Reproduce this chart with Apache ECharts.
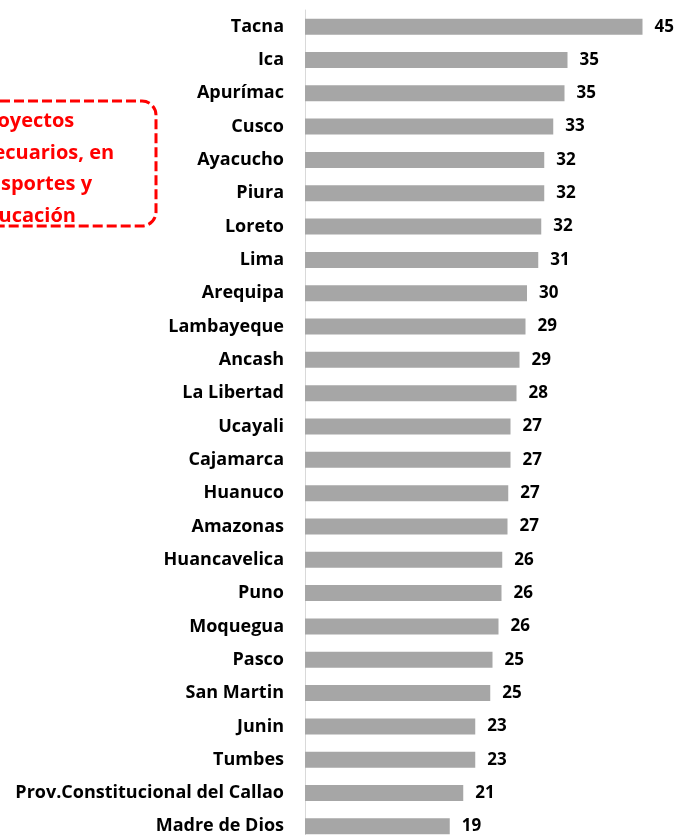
<!DOCTYPE html>
<html>
  <head>
    <meta http-equiv="Content-Type" content="text/html; charset=utf-8" />
    <title>index.html</title>
    <style type="text/css">
    	html,body{margin:0;padding:0;background:#fff;}
    	#chart1{width:680px;height:835px;}
    </style>
    <script type="text/javascript" src="https://cdn.jsdelivr.net/npm/echarts@6.0.0/dist/echarts.min.js"></script>
  </head>
  <body>
    <div id="chart1"></div>
  </body>
  <script type="text/javascript">
  	// regiones, de arriba hacia abajo
  	var regiones = ['Tacna','Ica','Apurímac','Cusco','Ayacucho','Piura','Loreto','Lima',
  		'Arequipa','Lambayeque','Ancash','La Libertad','Ucayali','Cajamarca','Huanuco',
  		'Amazonas','Huancavelica','Puno','Moquegua','Pasco','San Martin','Junin','Tumbes',
  		'Prov.Constitucional del Callao','Madre de Dios'];
  	var valores = [45.0, 35.0, 34.6, 33.1, 31.9, 31.9, 31.5, 31.1,
  		29.6, 29.4, 28.6, 28.2, 27.4, 27.4, 27.1,
  		27.0, 26.3, 26.2, 25.8, 25.0, 24.7, 22.7, 22.7,
  		21.1, 19.3];
  	var notaLineas = ['Proyectos', 'agropecuarios, en', 'transportes y', 'educación'];

  	var myChart = echarts.init(document.getElementById('chart1'));

  	myChart.setOption({
  		animation: false,
  		grid: {left: 305, top: 10, right: 0, height: 833, outerBoundsMode: 'none'},
  		xAxis: {
  			type: 'value',
  			min: 0,
  			max: 50,
  			show: false
  		},
  		yAxis: {
  			type: 'category',
  			inverse: true,
  			data: regiones,
  			axisTick: {show: false},
  			axisLine: {lineStyle: {color: '#D9D9D9', width: 1}},
  			axisLabel: {
  				margin: 21,
  				color: '#000',
  				fontFamily: 'Open Sans',
  				fontWeight: 'bold',
  				fontSize: 18
  			}
  		},
  		series: [{
  			type: 'bar',
  			data: valores,
  			barWidth: 16,
  			itemStyle: {color: '#A6A6A6'},
  			label: {
  				show: true,
  				position: 'right',
  				distance: 12,
  				color: '#000',
  				fontFamily: 'Open Sans',
  				fontWeight: 'bold',
  				fontSize: 17,
  				formatter: function(p){ return Math.round(p.value); }
  			}
  		}],
  		graphic: [{
  			type: 'rect',
  			shape: {x: -98, y: 101, width: 254, height: 125, r: 14},
  			style: {fill: '#fff', stroke: '#FF0000', lineWidth: 3, lineDash: [10, 4]}
  		}, {
  			type: 'text',
  			x: 25,
  			y: 169,
  			style: {
  				text: notaLineas.join('\n'),
  				fill: '#FF0000',
  				fontFamily: 'Open Sans',
  				fontWeight: 'bold',
  				fontSize: 20,
  				lineHeight: 31.5,
  				align: 'center',
  				verticalAlign: 'middle'
  			}
  		}]
  	});
	</script>
</html>
